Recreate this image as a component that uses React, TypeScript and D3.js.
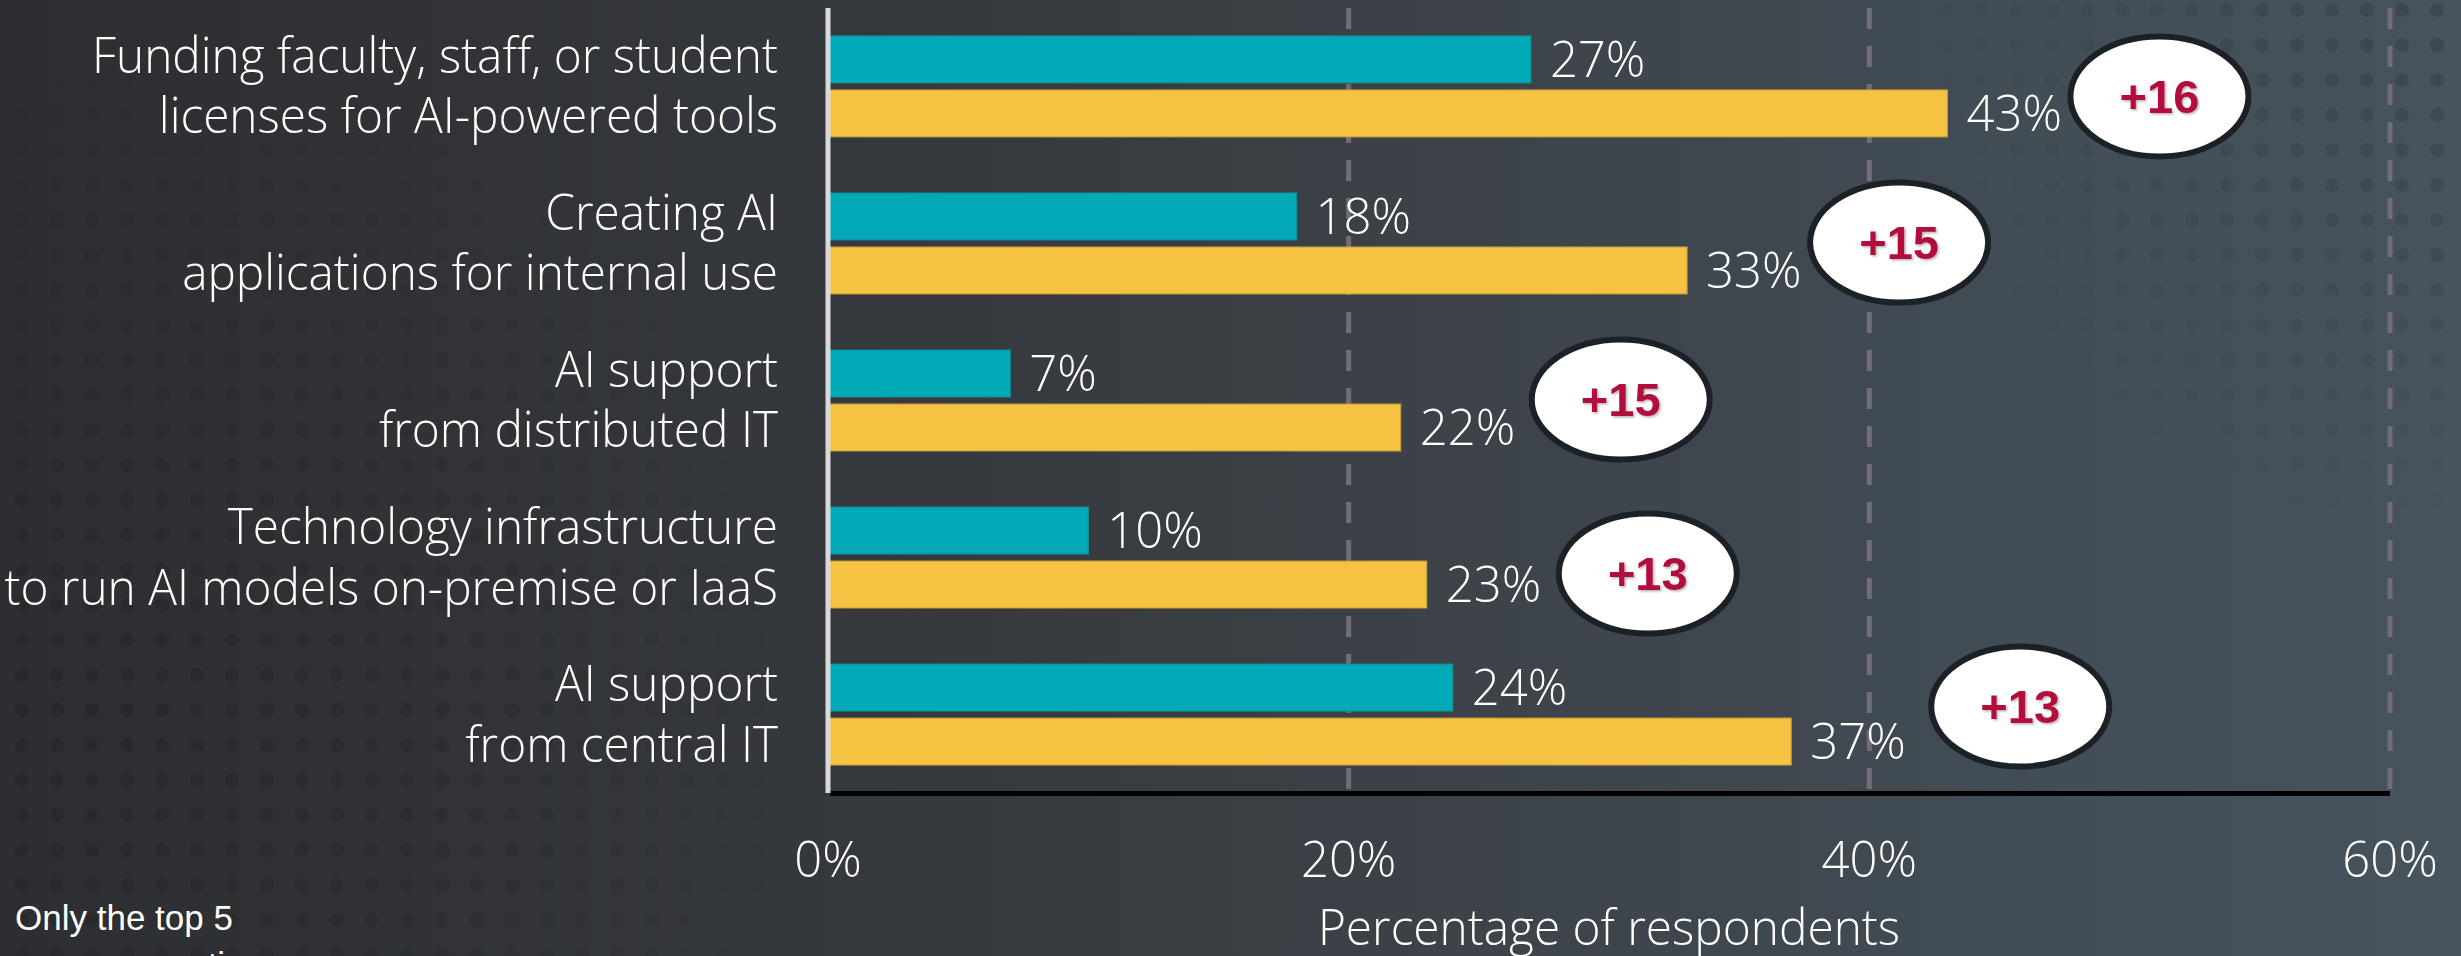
import React from "react";
import * as d3 from "d3";

// two-line category labels, top to bottom
const categoryLines = [
  ["Funding faculty, staff, or student", "licenses for AI-powered tools"],
  ["Creating AI", "applications for internal use"],
  ["AI support", "from distributed IT"],
  ["Technology infrastructure", "to run AI models on-premise or IaaS"],
  ["AI support", "from central IT"],
];
const seriesNames = ["earlier", "later"];
const earlierValues = [27, 18, 7, 10, 24];
const laterValues = [43, 33, 22, 23, 37];
const xTicks = [0, 20, 40, 60];
const xTitle = "Percentage of respondents";
const footnote = ["Only the top 5", "response options are"];

// bubble placement relative to the later bar end / group centre
const bubbleDx = [212, 212, 220, 221, 229];
const bubbleDy = [10, -1, -1, 16, -8];

const W = 2461;
const H = 956;
const TEAL = "#02a9b6";
const GOLD = "#f5c242";
const LIGHT = "'Open Sans', 'DejaVu Sans', sans-serif";
const SQUEEZE = 0.975; // the original face is a touch narrower

export default function App() {
  const keys = categoryLines.map((l) => l.join(" "));

  const x = d3.scaleLinear().domain([0, 60]).range([828, 2390]);
  const y = d3
    .scaleBand()
    .domain(keys)
    .range([8, 793])
    .paddingInner(0.357)
    .paddingOuter(0.178);
  const inner = d3
    .scaleBand()
    .domain(seriesNames)
    .range([0, y.bandwidth()])
    .paddingInner(0.13);

  const rows = keys.map((k, i) => ({
    key: k,
    lines: categoryLines[i],
    vals: [earlierValues[i], laterValues[i]],
    diff: laterValues[i] - earlierValues[i],
    i,
  }));

  return (
    <svg
      width={W}
      height={H}
      style={{ position: "absolute", left: 0, top: 0, display: "block" }}
    >
      <defs>
        <linearGradient id="bg" x1="0" y1="0" x2="1" y2="0">
          <stop offset="0%" stopColor="#2c2e31" />
          <stop offset="35%" stopColor="#35383c" />
          <stop offset="70%" stopColor="#3f474e" />
          <stop offset="100%" stopColor="#47545d" />
        </linearGradient>
        <pattern id="dots" width="35" height="35" patternUnits="userSpaceOnUse">
          <circle cx="22" cy="10" r="7" fill="#000" opacity="0.15" />
        </pattern>
        <radialGradient id="fadeTR" cx="2430" cy="30" r="500" gradientUnits="userSpaceOnUse">
          <stop offset="0%" stopColor="#fff" stopOpacity="1" />
          <stop offset="60%" stopColor="#fff" stopOpacity="0.45" />
          <stop offset="100%" stopColor="#fff" stopOpacity="0" />
        </radialGradient>
        <radialGradient id="fadeBL" cx="150" cy="720" r="650" gradientUnits="userSpaceOnUse">
          <stop offset="0%" stopColor="#fff" stopOpacity="0.9" />
          <stop offset="60%" stopColor="#fff" stopOpacity="0.45" />
          <stop offset="100%" stopColor="#fff" stopOpacity="0" />
        </radialGradient>
        <mask id="mTR">
          <rect width={W} height={H} fill="url(#fadeTR)" />
        </mask>
        <mask id="mBL">
          <rect width={W} height={H} fill="url(#fadeBL)" />
        </mask>
        <filter id="shadow" x="-20%" y="-20%" width="140%" height="140%">
          <feDropShadow dx="1.5" dy="1.5" stdDeviation="1" floodColor="#000" floodOpacity="0.3" />
        </filter>
      </defs>

      <rect width={W} height={H} fill="url(#bg)" />
      <rect width={W} height={H} fill="url(#dots)" mask="url(#mTR)" />
      <rect width={W} height={H} fill="url(#dots)" mask="url(#mBL)" />

      {/* dashed grid lines */}
      {xTicks
        .filter((t) => t > 0)
        .map((t) => (
          <line
            key={t}
            x1={x(t)}
            x2={x(t)}
            y1={8}
            y2={793}
            stroke="#716d78"
            strokeWidth={5}
            strokeDasharray="21 17"
          />
        ))}

      {/* bars */}
      {rows.map((r) => (
        <g key={r.key} transform={`translate(0,${y(r.key)})`}>
          {seriesNames.map((s, j) => (
            <g key={s}>
              <rect
                x={x(0)}
                y={inner(s)}
                width={x(r.vals[j]) - x(0)}
                height={inner.bandwidth()}
                fill={j === 0 ? TEAL : GOLD}
                stroke={j === 0 ? "#0d939c" : "#c99e3a"}
                strokeWidth={1}
              />
              <text
                x={x(r.vals[j]) + 19}
                y={(inner(s) as number) + inner.bandwidth() / 2}
                dy="0.36em"
                fill="#fff"
                fontFamily={LIGHT}
                fontWeight={300}
                fontSize={49}
              >
                {r.vals[j]}%
              </text>
            </g>
          ))}
        </g>
      ))}

      {/* category labels */}
      {rows.map((r) => {
        const cy = (y(r.key) as number) + y.bandwidth() / 2;
        return (
          <g key={r.key} transform={`translate(778,0) scale(${SQUEEZE},1)`}>
            <text
              textAnchor="end"
              fill="#fff"
              fontFamily={LIGHT}
              fontWeight={300}
              fontSize={49}
            >
              <tspan x={0} y={cy - 13.5}>
                {r.lines[0]}
              </tspan>
              <tspan x={0} y={cy + 47}>
                {r.lines[1]}
              </tspan>
            </text>
          </g>
        );
      })}

      {/* axes */}
      <line x1={x(0) + 2} x2={2390} y1={793.5} y2={793.5} stroke="#000" strokeWidth={5} />
      <line x1={x(0)} x2={x(0)} y1={8} y2={793} stroke="#d9d9d9" strokeWidth={5} />

      {xTicks.map((t) => (
        <text
          key={t}
          x={x(t)}
          y={877}
          textAnchor="middle"
          fill="#fff"
          fontFamily={LIGHT}
          fontWeight={300}
          fontSize={49}
        >
          {t}%
        </text>
      ))}
      <g transform={`translate(${(x(0) + x(60)) / 2},0) scale(${SQUEEZE},1)`}>
        <text
          x={0}
          y={945}
          textAnchor="middle"
          fill="#fff"
          fontFamily={LIGHT}
          fontWeight={300}
          fontSize={49}
        >
          {xTitle}
        </text>
      </g>

      {/* change bubbles */}
      {rows.map((r) => {
        const cx = x(r.vals[1]) + bubbleDx[r.i];
        const cy = (y(r.key) as number) + y.bandwidth() / 2 + bubbleDy[r.i];
        return (
          <g key={r.key}>
            <ellipse cx={cx} cy={cy} rx={89} ry={60} fill="#fff" stroke="#1b2127" strokeWidth={6} />
            <text
              x={cx}
              y={cy}
              dy="0.36em"
              textAnchor="middle"
              fill="#b1103c"
              fontFamily="'Liberation Sans', Arial, sans-serif"
              fontWeight={700}
              fontSize={47}
              filter="url(#shadow)"
            >
              +{r.diff}
            </text>
          </g>
        );
      })}

      {/* footnote */}
      <text fill="#fff" fontFamily="'Liberation Sans', Arial, sans-serif" fontSize={35}>
        <tspan x={15} y={930}>
          {footnote[0]}
        </tspan>
        <tspan x={15} y={977}>
          {footnote[1]}
        </tspan>
      </text>
    </svg>
  );
}
